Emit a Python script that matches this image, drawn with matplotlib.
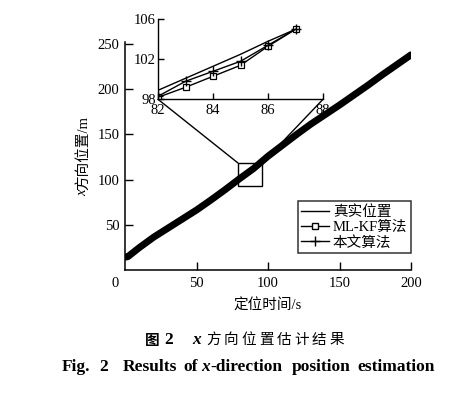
import matplotlib
matplotlib.use("Agg")
import matplotlib.pyplot as plt
from matplotlib.patches import Rectangle, ConnectionPatch
from matplotlib.lines import Line2D

plt.rcParams['font.family'] = ['Liberation Serif', 'Noto Sans CJK SC']

# ---- data ----
t_main = [0, 2, 10, 20, 30, 40, 50, 60, 70, 80, 90, 100, 110, 120, 130,
          140, 150, 160, 170, 180, 190, 200]
pos_true = [14.5, 15.0, 25.0, 36.5, 46.5, 56.5, 66.5, 77.5, 89.0, 101.0,
            112.5, 126.0, 138.0, 150.0, 161.5, 172.0, 182.5, 193.5, 204.5,
            216.0, 227.0, 238.0]
pos_mlkf = pos_true   # indistinguishable from the true track at full scale
pos_ours = pos_true

inset_t = [82, 83, 84, 85, 86, 87]
inset_true = [98.9, 100.1, 101.3, 102.5, 103.8, 105.0]
inset_mlkf = [98.2, 99.2, 100.3, 101.4, 103.3, 105.0]
inset_ours = [98.3, 99.8, 100.8, 101.8, 103.4, 105.0]

labels = ['真实位置', 'ML-KF算法', '本文算法']
x_ticks = [50, 100, 150, 200]
y_ticks = [50, 100, 150, 200, 250]
inset_xticks = [82, 84, 86, 88]
inset_yticks = [98, 102, 106]

W, H = 476, 399
fig = plt.figure(figsize=(W / 100, H / 100), dpi=100)
renderer = fig.canvas.get_renderer()

def fx(px):
    return px / W

def fy(py):
    return 1 - py / H

# ---- main axes ----
ax = fig.add_axes([fx(125), fy(270.25), fx(411) - fx(125), fy(41.7) - fy(270.25)])
ax.plot(t_main, pos_true, color='black', lw=5.0, solid_capstyle='round')
ax.plot(t_main, pos_mlkf, color='black', lw=1.0)
ax.plot(t_main, pos_ours, color='black', lw=1.0)
ax.set_xlim(0, 200)
ax.set_ylim(0, 252.5)
ax.set_xticks(x_ticks)
ax.set_yticks(y_ticks)
for s in ['top', 'right']:
    ax.spines[s].set_visible(False)
for s in ['left', 'bottom']:
    ax.spines[s].set_linewidth(1.1)
ax.tick_params(direction='in', length=5.5, width=1.0, labelsize=10.5)
ax.tick_params(axis='x', pad=5)
ax.tick_params(axis='y', pad=4)
ax.annotate('0', xy=(0, 0), xycoords='data', xytext=(-7, -5.0),
            textcoords='offset points', ha='center', va='top', fontsize=10.5)

ax.set_xlabel('定位时间/s', fontsize=10.5, labelpad=6)

# zoom rectangle
ax.add_patch(Rectangle((79, 93), 17, 25.5, fill=False, lw=1.0, ec='black'))

# legend
handles = [
    Line2D([], [], color='black', lw=1.0),
    Line2D([], [], color='black', lw=1.0, marker='s', ms=5, mfc='white', mec='black'),
    Line2D([], [], color='black', lw=1.0, marker='+', ms=7, mew=1.0),
]
leg = ax.legend(handles, labels, loc='lower right', bbox_to_anchor=(1.0, 0.0755),
                borderaxespad=0, fontsize=10.5, frameon=True, fancybox=False,
                edgecolor='black', handlelength=1.9, handletextpad=0.25,
                labelspacing=0.12, borderpad=0.25, numpoints=1)
leg.get_frame().set_linewidth(1.1)

# y label built from pieces (italic x + CJK text), bottom to top
ylab_x = 83
yy = 196
for txt, kw in [('x', dict(fontstyle='italic', family=['Liberation Serif'])),
                ('方向位置/m', dict(family=['Liberation Serif', 'Noto Sans CJK SC']))]:
    t = fig.text(fx(ylab_x), fy(yy), txt, rotation=90, ha='center', va='bottom',
                 fontsize=10.5, **kw)
    yy -= t.get_window_extent(renderer=renderer).height

# ---- inset ----
ins = fig.add_axes([fx(158), fy(99.3), fx(323) - fx(158), fy(19.3) - fy(99.3)])
ins.plot(inset_t, inset_true, color='black', lw=1.0)
ins.plot(inset_t, inset_mlkf, color='black', lw=1.0, marker='s', ms=5,
         mfc='white', mec='black', mew=0.9)
ins.plot(inset_t, inset_ours, color='black', lw=1.0, marker='+', ms=7, mew=1.0)
ins.set_xlim(82, 88)
ins.set_ylim(98, 106)
ins.set_xticks(inset_xticks)
ins.set_yticks(inset_yticks)
ins.patch.set_alpha(0)
for s in ['top', 'right']:
    ins.spines[s].set_visible(False)
for s in ['left', 'bottom']:
    ins.spines[s].set_linewidth(1.0)
ins.tick_params(direction='in', length=4, width=1.0, labelsize=10.5)
ins.tick_params(axis='x', pad=3.5)
ins.tick_params(axis='y', pad=1.5)

# connectors
for (xa, ya), (xb, yb) in [((82, 98), (79, 118.5)), ((88, 98), (96, 118.5))]:
    cp = ConnectionPatch(xyA=(xa, ya), coordsA=ins.transData,
                         xyB=(xb, yb), coordsB=ax.transData,
                         color='black', lw=1.0)
    fig.add_artist(cp)

# ---- captions ----
zh = ['Noto Sans CJK SC', 'Liberation Serif']
en = ['Liberation Serif']
cy1 = 340
fig.text(fx(145), fy(cy1), '图', ha='left', va='center', fontsize=10.5,
         fontweight='bold', family=zh)
fig.text(fx(164), fy(cy1), '2', ha='left', va='center', fontsize=12.5,
         fontweight='bold', family=en)
fig.text(fx(192), fy(cy1), 'x', ha='left', va='center', fontsize=12.5,
         fontweight='bold', fontstyle='italic', family=en)
for i, ch in enumerate('方向位置估计结果'):
    fig.text(fx(206 + i * 17.6), fy(cy1), ch, ha='left', va='center',
             fontsize=10.5, family=zh)

cy2 = 367
for x0, word, style in [(62, 'Fig.', 'normal'), (99, '2', 'normal'),
                        (123, 'Results', 'normal'), (183, 'of', 'normal'),
                        (292, 'position', 'normal'), (357, 'estimation', 'normal')]:
    fig.text(fx(x0), fy(cy2), word, ha='left', va='center', fontsize=12.5,
             fontweight='bold', fontstyle=style, family=en)
tx = fig.text(fx(201), fy(cy2), 'x', ha='left', va='center', fontsize=12.5,
              fontweight='bold', fontstyle='italic', family=en)
xend = tx.get_window_extent(renderer=renderer).x1
fig.text(fx(xend + 0.5), fy(cy2), '-direction', ha='left', va='center', fontsize=12.5,
         fontweight='bold', family=en)

fig.savefig('out.png', dpi=100)
